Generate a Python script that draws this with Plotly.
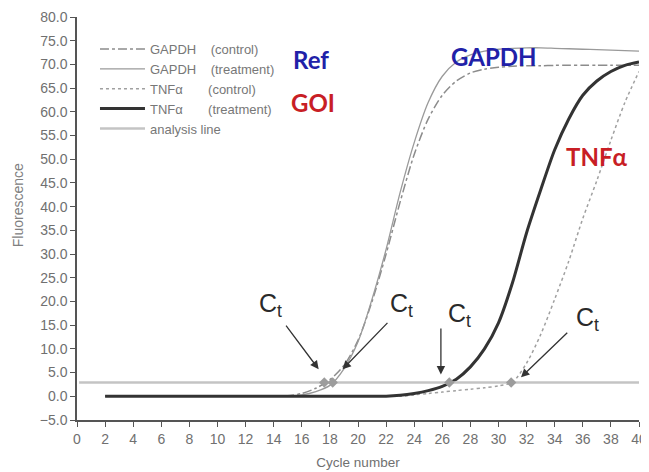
import plotly.graph_objects as go

cycles = list(range(2, 41))

gapdh_control = [0.0] * 13 + [0.1, 0.6, 1.7, 3.5, 6.5, 11.8, 20.0, 30.0, 41.0, 51.0, 58.5, 63.5,
                             66.5, 68.2, 69.0, 69.4, 69.6, 69.7, 69.7, 69.8, 69.8, 69.8, 69.8, 69.8, 69.8, 69.8]
gapdh_treatment = [0.0] * 13 + [0.05, 0.3, 1.0, 2.3, 5.8, 11.5, 20.5, 31.0, 43.0, 53.5, 62.0, 67.5,
                               70.5, 72.0, 72.8, 73.2, 73.4, 73.5, 73.5, 73.4, 73.3, 73.2, 73.1, 73.0, 72.9, 72.8]
tnf_control = [0.0] * 22 + [0.3, 0.6, 0.9, 1.2, 1.5, 1.8, 2.2, 3.0, 7.0, 13.0, 20.5, 28.5, 37.5,
                           45.5, 54.0, 62.0, 68.5]
tnf_treatment = [0.0] * 21 + [0.2, 0.6, 1.2, 2.1, 3.6, 6.2, 10.0, 15.5, 24.0, 34.5, 43.5, 52.0, 58.5,
                             63.5, 66.5, 68.5, 69.8, 70.5]

analysis_x = [0.15, 40]
analysis_y = [2.9, 2.9]

ct_cycles = [17.6, 18.2, 26.5, 30.9]
ct_values = [2.9, 2.9, 2.9, 2.9]

# arrows: (tail cycle, tail value, head cycle, head value)
arrow_tail_x = [14.8, 22.2, 25.9, 35.0]
arrow_tail_y = [15.2, 15.8, 14.6, 13.7]
arrow_head_x = [17.2, 18.9, 25.9, 31.6]
arrow_head_y = [5.7, 5.7, 4.6, 4.0]

ct_label_x = [13.8, 23.1, 27.2, 36.3]
ct_label_y = [19.2, 19.2, 17.2, 16.3]

x_ticks = list(range(0, 41, 2))
y_ticks = [-5 + 5 * i for i in range(18)]

fig = go.Figure()
lf = "Liberation Sans, Arial, sans-serif"

fig.add_trace(go.Scatter(x=cycles, y=gapdh_control, mode="lines", name="GAPDH    (control)",
                         line=dict(color="#8c8c8c", width=1.5, dash="dashdot", shape="spline", smoothing=0.8),
                         legendgroup="a"))
fig.add_trace(go.Scatter(x=cycles, y=gapdh_treatment, mode="lines", name="GAPDH    (treatment)",
                         line=dict(color="#9a9a9a", width=1.3, shape="spline", smoothing=0.8),
                         legendgroup="b"))
fig.add_trace(go.Scatter(x=cycles, y=tnf_control, mode="lines", name="TNFα       (control)",
                         line=dict(color="#a0a0a0", width=1.5, dash="3px,3px", shape="spline", smoothing=0.8),
                         legendgroup="c"))
fig.add_trace(go.Scatter(x=cycles, y=tnf_treatment, mode="lines", name="TNFα       (treatment)",
                         line=dict(color="#333333", width=3, shape="spline", smoothing=0.8),
                         legendgroup="d"))
fig.add_trace(go.Scatter(x=analysis_x, y=analysis_y, mode="lines", name="analysis line",
                         line=dict(color="#c4c4c4", width=2.5), legendgroup="e"))
fig.add_trace(go.Scatter(x=ct_cycles, y=ct_values, mode="markers", showlegend=False,
                         marker=dict(symbol="diamond", size=8, color="#9c9c9c")))

annotations = []
for tx, ty, hx, hy in zip(arrow_tail_x, arrow_tail_y, arrow_head_x, arrow_head_y):
    annotations.append(dict(x=hx, y=hy, ax=tx, ay=ty, xref="x", yref="y", axref="x", ayref="y",
                            text="", showarrow=True, arrowhead=2, arrowsize=1.3, arrowwidth=1.3,
                            arrowcolor="#333333"))
for lx, ly in zip(ct_label_x, ct_label_y):
    annotations.append(dict(x=lx, y=ly, xref="x", yref="y", text="C<sub>t</sub>", showarrow=False,
                            font=dict(family=lf, size=25, color="#2a2a2a")))

bold = "Lato, Open Sans, sans-serif"
annotations += [
    dict(x=16.67, y=71.1, text="<b>Ref</b>", showarrow=False, font=dict(family=bold, size=24, color="#2121a8")),
    dict(x=16.8, y=62.0, text="<b>GOI</b>", showarrow=False, font=dict(family=bold, size=24, color="#c81e25")),
    dict(x=29.7, y=71.7, text="<b>GAPDH</b>", showarrow=False, font=dict(family=bold, size=24, color="#2121a8")),
    dict(x=36.95, y=50.6, text="<b>TNFα</b>", showarrow=False, font=dict(family=bold, size=24, color="#c81e25")),
    dict(x=-0.105, y=40.3, xref="paper", yref="y", xanchor="center", yanchor="middle",
         text="Fluorescence", textangle=-90, showarrow=False,
         font=dict(family=lf, size=14, color="#808080")),
]

# page has an 8px body margin, so the figure is sized/offset to fit the 649x472 window
fig.update_layout(
    template="none",
    width=641, height=464,
    margin=dict(l=69, r=10, t=9, b=52),
    paper_bgcolor="white", plot_bgcolor="white",
    font=dict(family=lf, size=13, color="#707070"),
    showlegend=True,
    legend=dict(x=0.032, y=0.958, xanchor="left", yanchor="top", bgcolor="rgba(0,0,0,0)",
                font=dict(family=lf, size=13, color="#777777"), traceorder="grouped",
                tracegroupgap=0, itemwidth=45),
    annotations=annotations,
    xaxis=dict(range=[0, 40], tickmode="array", tickvals=x_ticks, ticks="outside", ticklen=5,
               tickcolor="#555", showline=True, linecolor="#555", linewidth=1.5, showgrid=False,
               zeroline=False, automargin=False, tickfont=dict(size=14, color="#707070"),
               title=dict(text="Cycle number", font=dict(size=13.5, color="#707070"), standoff=12)),
    yaxis=dict(range=[-5, 80], tickmode="array", tickvals=y_ticks, tickformat=".1f", ticks="outside",
               ticklen=5, tickcolor="#555", showline=True, linecolor="#555", linewidth=1.5,
               showgrid=False, zeroline=False, automargin=False, tickfont=dict(size=14, color="#707070")),
)

fig.write_html("out.html")
